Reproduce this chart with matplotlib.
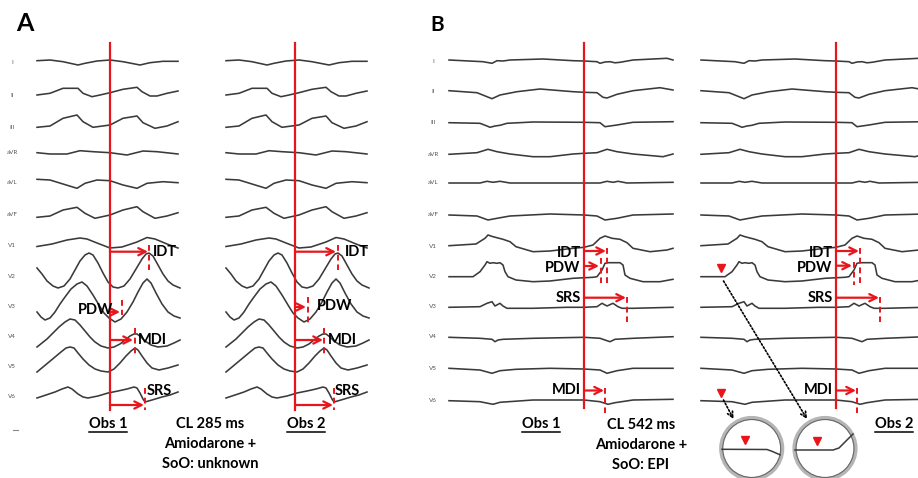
import matplotlib.pyplot as plt
from matplotlib.patches import Circle

plt.rcParams['font.family'] = ['Lato', 'DejaVu Sans']

leads = ["I", "II", "III", "aVR", "aVL", "aVF", "V1", "V2", "V3", "V4", "V5", "V6"]

# Panel A (CL 285 ms) traces: (time, deflection), in px
a_I = [(0, 1.3), (13, 2), (26, 0.3), (41, -3), (48, -1.3), (60, 1), (73, 2), (86, 0.3),
       (103, -3), (113, -0.7), (126, 0.7), (141, 0.7)]
a_II = [(0, 0), (13, 1.7), (26, 6.7), (41, 6.7), (46, 1.7), (55, -1.7), (63, 0), (73, 2.3),
        (86, 5.7), (100, 7.7), (105, 3.3), (113, -1), (120, -1), (130, 1.7), (141, 4)]
a_III = [(0, -0.3), (13, 1), (26, 8.7), (40, 12), (46, 5.3), (56, -0.3), (73, 2), (86, 8.7),
         (100, 11), (106, 4.3), (118, -1.3), (130, 1), (141, 5.3)]
a_aVR = [(0, 0.3), (13, -1), (30, -1), (43, 2.3), (56, 1.3), (73, 0.3), (90, -2), (106, 2),
         (120, 1.3), (141, -1)]
a_aVL = [(0, 3.7), (13, 3), (26, -1), (40, -5.3), (48, -0.3), (60, 3), (73, 2.3), (86, -2),
         (100, -5.3), (110, -0.3), (126, 1.3), (141, 0.3)]
a_aVF = [(0, -3.3), (13, -2), (26, 4), (40, 6.7), (48, 0.7), (58, -4.3), (73, -1), (86, 4),
         (100, 7.3), (106, 2.3), (118, -4.3), (130, -2), (141, 1.3)]
a_V1 = [(0, -1.5), (15, 1), (30, 5), (43, 7), (50, 6), (60, 2), (73, -3), (85, -2), (100, 3),
        (110, 7.5), (118, 6), (130, 1), (141, -3)]
a_V2 = [(0, 8), (5, 2), (10, -5), (16, -10), (21, -12), (27, -10), (33, -3), (38, 6), (43, 15),
        (48, 21), (52, 23), (56, 21), (61, 13), (66, 3), (71, -6), (76, -11), (81, -12),
        (87, -10), (93, -3), (99, 7), (105, 17), (109, 22), (112, 23), (116, 20), (121, 11),
        (126, 2), (131, -5), (136, -9), (143, -12)]
a_V3 = [(0, -6), (4, -11), (8, -14), (13, -12), (18, -6), (23, 2), (28, 9), (34, 17), (40, 22),
        (45, 24), (50, 20), (56, 11), (62, 1), (67, -7), (72, -12), (78, -16), (84, -13),
        (90, -6), (96, 4), (101, 14), (106, 23), (110, 27), (114, 23), (119, 13), (125, 2),
        (131, -6), (137, -10), (143, -12)]
a_V4 = [(0, -10), (5, -6), (10, -2), (16, 4), (22, 10), (28, 15), (33, 18), (38, 17), (43, 12),
        (48, 6), (53, 0), (58, -5), (64, -9), (71, -11), (77, -10), (83, -7), (88, -3), (93, 1),
        (97, 3), (100, 3), (104, 0), (108, -4), (114, -8), (121, -10), (130, -9), (137, -6),
        (143, -3)]
a_V5 = [(0, -5), (6, 0), (12, 5), (18, 10), (24, 15), (29, 19), (33, 20), (37, 19), (41, 14),
        (46, 8), (52, 2), (58, -2), (64, -4), (71, -5), (77, -2), (83, 4), (89, 11), (94, 16),
        (98, 19), (101, 17), (105, 11), (110, 4), (115, -1), (122, -3), (131, -1), (141, 2)]
a_V6 = [(0, -1), (9, 2), (18, 5), (25, 8), (31, 10), (35, 8), (41, 3), (46, 0), (51, -1),
        (61, 1), (71, 4), (81, 6), (90, 8), (97, 10), (100, 9), (103, 4), (106, -2), (108, -5),
        (115, -3), (125, 0), (133, 2), (141, 5)]

# Panel B (CL 542 ms) traces
b_I = [(0, 1), (34, -0.7), (43, -2.3), (48, 0.3), (54, 0), (61, 1), (94, 2), (124, 0.3),
       (135, 0), (148, -0.7), (151, -2.3), (156, -1), (161, -0.7), (166, -1.8), (171, -1.3),
       (184, 1), (218, 2.7), (224, 1)]
b_II = [(0, 0.3), (28, -1.7), (38, -5.7), (43, -7.7), (51, -4), (68, -0.7), (91, 2),
        (124, -0.7), (135, -1.3), (148, -1.7), (154, -6.3), (158, -7), (168, -3.3), (184, 0.3),
        (211, 3.3), (224, 1)]
b_III = [(0, -0.7), (31, -1.3), (38, -4), (41, -5.3), (46, -4), (51, -3.3), (58, -1.3), (84, 0),
         (135, -0.3), (151, -0.7), (156, -4.7), (161, -4), (168, -3), (184, -0.3), (224, 0.3)]
b_aVR = [(0, -0.3), (28, 1.3), (39, 4.7), (48, 2.3), (61, 0), (84, -2.7), (101, -2.7), (124, 0),
         (135, 0.7), (148, 1.3), (158, 4.7), (168, 2.3), (184, 0), (214, -2.7), (224, 0)]
b_aVL = [(0, 0), (31, 0), (38, 1.7), (44, 0.7), (51, 1.7), (61, 0), (135, 0), (151, 0),
         (158, 1.7), (164, 0.7), (169, 1.7), (178, 0), (224, 0.7)]
b_aVF = [(0, 0), (28, -1), (39, -5), (48, -3.3), (61, -1), (101, 1), (135, 0), (148, -1),
         (156, -5), (168, -3.3), (184, 0), (224, 1)]
b_V1 = [(0, 0.3), (27, 2), (36, 7.7), (39, 11), (44, 9.3), (54, 6.7), (61, 4.3), (67, -0.7),
        (84, -5.7), (101, -5), (124, -2.3), (135, -1.3), (144, 1), (151, 7.7), (156, 10),
        (163, 7.7), (171, 6.7), (178, 3.3), (184, -2.3), (201, -5.7), (218, -4), (224, -2.3)]
b_V2 = [(0, 0.3), (24, 0.3), (31, 5.3), (36, 12), (38, 15.3), (41, 13.7), (44, 14.3),
        (48, 13.7), (51, 14.3), (54, 12), (56, 5.3), (59, 0.3), (67, -3), (84, -4.7), (101, -4),
        (124, -1.3), (144, -0.3), (148, 0.3), (153, 7), (156, 13.7), (159, 14.3), (164, 14.3),
        (171, 14.3), (174, 12), (176, 2), (181, -1.3), (194, -4.7), (211, -4.7), (224, -2.3)]
b_V3 = [(0, -0.3), (31, 0.3), (38, 3.7), (43, 5.3), (46, 1), (51, 3.7), (54, 1), (58, -1.3),
        (84, -1.3), (118, -0.3), (135, -0.3), (148, 0.3), (153, 3.7), (158, 1), (164, 3.7),
        (169, 0.3), (173, -1.3), (184, -1.3), (224, -0.3)]
b_V4 = [(0, -0.3), (31, -1.3), (43, -2.3), (46, -4.7), (49, -3), (54, -2.3), (84, -1.3),
        (135, -0.3), (151, -1.3), (158, -3.7), (161, -4.7), (166, -2.3), (184, -1.3), (224, 0.3)]
b_V5 = [(0, 0.7), (31, -1), (43, -4.3), (51, -1.7), (67, -0.3), (101, 0.7), (135, 0),
        (151, -1), (158, -4.3), (168, -1.7), (184, 0.7), (224, 0.7)]
b_V6 = [(0, -0.7), (31, -1.7), (44, -4.3), (51, -2.3), (84, 0), (135, 0), (151, -1.7),
        (159, -4.3), (166, -2.7), (184, 0), (224, 0.7)]

panel_a_traces = [a_I, a_II, a_III, a_aVR, a_aVL, a_aVF, a_V1, a_V2, a_V3, a_V4, a_V5, a_V6]
panel_b_traces = [b_I, b_II, b_III, b_aVR, b_aVL, b_aVF, b_V1, b_V2, b_V3, b_V4, b_V5, b_V6]

# measurements: (name, arrow end, dashed marker) as offsets from the red reference line
a_obs1 = [("IDT", 38, 39), ("PDW", 10, 12), ("MDI", 23, 25), ("SRS", 34, 35)]
a_obs2 = [("IDT", 41, 43), ("PDW", 11, 13), ("MDI", 28, 29), ("SRS", 38, 39)]
b_obs1 = [("IDT", 22, 23), ("PDW", 15, 17), ("SRS", 42, 43), ("MDI", 20, 21)]
b_obs2 = [("IDT", 23, 24), ("PDW", 16, 18), ("SRS", 43, 44), ("MDI", 20, 21)]

# magnified onset segments inside the circles
inset_v6 = [(0, 0), (45, -0.2), (50, -2), (58, -5.5)]
inset_v2 = [(0, 0), (38, 0), (44, 2), (50, 8), (58, 16)]

RED = '#e8161c'
TRACE = '#3a3a3a'

fig = plt.figure(figsize=(9.18, 4.78), dpi=100)
ax = fig.add_axes([0, 0, 1, 1])
ax.set_xlim(0, 918)
ax.set_ylim(478, 0)
ax.axis('off')


def draw_traces(traces, bases, x0):
    for pts, base in zip(traces, bases):
        ax.plot([x0 + t for t, v in pts], [base - v for t, v in pts],
                color=TRACE, lw=1.15, solid_joinstyle='round')


def arrow(x1, x2, y):
    ax.annotate('', xy=(x2, y), xytext=(x1, y),
                arrowprops=dict(arrowstyle='->', color=RED, lw=1.6,
                                shrinkA=0, shrinkB=0, mutation_scale=13))


def dashed(x, y1, y2):
    ax.plot([x, x], [y1, y2], color=RED, lw=1.4, ls=(0, (3, 2)))


def bold(x, y, s, ha='left', size=10.5):
    return ax.text(x, y, s, ha=ha, va='center', fontsize=size, fontweight='bold')


def underlined(x, y, s):
    t = bold(x, y, s, ha='center')
    fig.canvas.draw()
    bb = t.get_window_extent().transformed(ax.transData.inverted())
    ax.plot([bb.x0, bb.x1], [y + 8, y + 8], color='black', lw=1.1)


# ---------------- panel A ----------------
bases_a = [62, 95, 127, 153, 183, 214, 245, 276, 306, 337, 367, 397]
ax.text(25, 23, "A", ha='center', va='center', fontsize=18, fontweight='bold')
for lead, y in zip(leads, bases_a):
    ax.text(12, y, lead, ha='center', va='center', fontsize=4.5, color='#555555')
ax.plot([13, 18], [430, 430], color='#888888', lw=0.8)

draw_traces(panel_a_traces, bases_a, 37)
draw_traces(panel_a_traces, bases_a, 226)

a_rows = {"IDT": (251.7, 245, 270), "MDI": (340, 328, 355), "SRS": (405, 388, 410)}
for red_x, meas, pdw in [(110, a_obs1, (312, 300, 315)), (295, a_obs2, (307, 297, 323))]:
    ax.plot([red_x, red_x], [43, 410], color=RED, lw=1.6)
    for name, end, mark in meas:
        ya, y1, y2 = pdw if name == "PDW" else a_rows[name]
        arrow(red_x, red_x + end, ya)
        dashed(red_x + mark, y1, y2)

bold(153, 252, "IDT")
bold(113, 310, "PDW", ha='right')
bold(138, 340, "MDI")
bold(147, 391, "SRS")
bold(345, 252, "IDT")
bold(317, 306, "PDW")
bold(328, 340, "MDI")
bold(335, 391, "SRS")

underlined(108, 424, "Obs 1")
underlined(306, 424, "Obs 2")
bold(210, 424, "CL 285 ms", ha='center')
bold(210, 444, "Amiodarone +", ha='center')
bold(210, 464, "SoO: unknown", ha='center')

# ---------------- panel B ----------------
bases_b = [61, 91, 122, 154, 183, 215, 246, 277, 307, 337, 369, 400]
ax.text(437, 25, "B", ha='center', va='center', fontsize=15, fontweight='bold')
for lead, y in zip(leads, bases_b):
    ax.text(433, y, lead, ha='center', va='center', fontsize=4.5, color='#555555')

draw_traces(panel_b_traces, bases_b, 449)
draw_traces(panel_b_traces, bases_b, 701)

b_rows = {"IDT": (251, 248, 285, 253), "SRS": (297.7, 297, 322, 297.7),
          "MDI": (390.5, 388, 413, 390.5)}
for red_x, meas, pdw in [(584, b_obs1, (266, 258, 283, 267.5)),
                         (836, b_obs2, (265.7, 262, 285, 267.5))]:
    ax.plot([red_x, red_x], [43, 408], color=RED, lw=1.6)
    for name, end, mark in meas:
        ya, y1, y2, yt = pdw if name == "PDW" else b_rows[name]
        arrow(red_x, red_x + end, ya)
        dashed(red_x + mark, y1, y2)
        bold(red_x - 3.5, yt, name, ha='right')

underlined(541, 424, "Obs 1")
underlined(894, 424, "Obs 2")
bold(641, 425, "CL 542 ms", ha='center')
bold(641, 445, "Amiodarone +", ha='center')
bold(640, 465, "SoO: EPI", ha='center')

# onset markers and magnified insets
ax.plot([721, 721], [268.3, 392.7], ls='none', marker='v', color=RED, markersize=6)
for cx in (751.7, 825):
    ax.add_patch(Circle((cx, 448.5), 30.5, fill=False, ec='#b5b5b5', lw=3))
    ax.add_patch(Circle((cx, 448.5), 29, fill=False, ec='#6a6a6a', lw=0.8))
for x0, y0, pts in [(722, 449.3, inset_v6), (795, 450, inset_v2)]:
    ax.plot([x0 + t for t, v in pts], [y0 - v for t, v in pts], color=TRACE, lw=1.1)
ax.plot([745, 816.7], [440, 441], ls='none', marker='v', color=RED, markersize=6)

ax.annotate('', xy=(807, 419), xytext=(723.5, 281),
            arrowprops=dict(arrowstyle='->', color='black', lw=1.2, ls=(0, (1, 1.2)),
                            shrinkA=0, shrinkB=0, mutation_scale=10))
ax.annotate('', xy=(733.5, 419), xytext=(723.5, 400),
            arrowprops=dict(arrowstyle='->', color='black', lw=1.2, ls=(0, (1, 1.2)),
                            shrinkA=0, shrinkB=0, mutation_scale=10))

fig.savefig('out.png', dpi=100)
